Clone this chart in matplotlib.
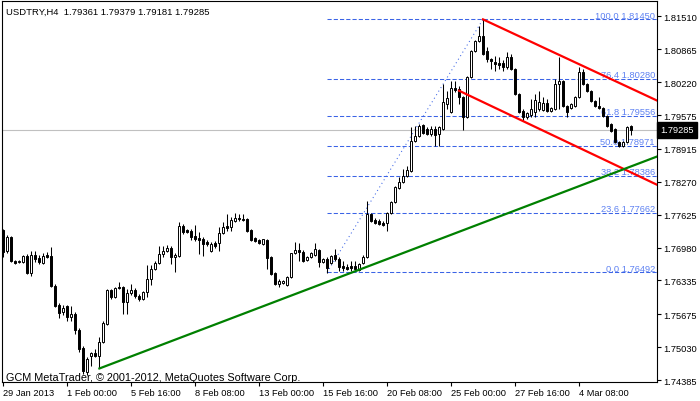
import matplotlib
matplotlib.use('Agg')
import matplotlib.pyplot as plt
import numpy as np

plt.rcParams['font.family'] = ['Liberation Sans', 'DejaVu Sans']

symbol_text = 'USDTRY,H4  1.79361 1.79379 1.79181 1.79285'
copyright_text = 'GCM MetaTrader, \u00a9 2001-2012, MetaQuotes Software Corp.'

# H4 candles, one entry per bar (bar 0 = 29 Jan 2013)
opens = [
    1.7732, 1.7691, 1.7718, 1.7672, 1.7670, 1.7670, 1.7681, 1.7648, 1.7683, 1.7677,
    1.7668, 1.7683, 1.7681, 1.7622, 1.7585, 1.7572, 1.7583, 1.7562, 1.7568, 1.7536,
    1.7501, 1.7454, 1.7485, 1.7491, 1.7485, 1.7513, 1.7548, 1.7615, 1.7601, 1.7620,
    1.7620, 1.7591, 1.7609, 1.7615, 1.7603, 1.7597, 1.7611, 1.7636, 1.7656, 1.7668,
    1.7685, 1.7691, 1.7697, 1.7679, 1.7681, 1.7740, 1.7732, 1.7730, 1.7720, 1.7716,
    1.7715, 1.7709, 1.7691, 1.7707, 1.7707, 1.7726, 1.7740, 1.7738, 1.7750, 1.7756,
    1.7754, 1.7754, 1.7732, 1.7716, 1.7713, 1.7705, 1.7713, 1.7679, 1.7648, 1.7626,
    1.7628, 1.7624, 1.7640, 1.7687, 1.7693, 1.7689, 1.7674, 1.7679, 1.7683, 1.7693,
    1.7670, 1.7676, 1.7668, 1.7683, 1.7676, 1.7662, 1.7660, 1.7662, 1.7662, 1.7654,
    1.7668, 1.7679, 1.7764, 1.7752, 1.7750, 1.7746, 1.7746, 1.7766, 1.7787, 1.7814,
    1.7826, 1.7838, 1.7848, 1.7907, 1.7916, 1.7938, 1.7930, 1.7920, 1.7930, 1.7920,
    1.7930, 1.7979, 1.7963, 1.8010, 1.8009, 1.7993, 1.7954, 1.8032, 1.8083, 1.8103,
    1.8112, 1.8083, 1.8067, 1.8061, 1.8059, 1.8059, 1.8051, 1.8071, 1.8048, 1.7999,
    1.7965, 1.7954, 1.7958, 1.7963, 1.7969, 1.7967, 1.7981, 1.7965, 1.7969, 1.8018,
    1.8024, 1.7975, 1.7971, 1.7975, 1.7993, 1.8042, 1.8018, 1.8005, 1.7985, 1.7975,
    1.7971, 1.7956, 1.7940, 1.7930, 1.7905, 1.7897, 1.7905, 1.79361,
]
highs = [
    1.7734, 1.7722, 1.7720, 1.7674, 1.7674, 1.7683, 1.7685, 1.7691, 1.7691, 1.7683,
    1.7687, 1.7689, 1.7699, 1.7626, 1.7589, 1.7585, 1.7585, 1.7583, 1.7572, 1.7540,
    1.7505, 1.7483, 1.7493, 1.7499, 1.7522, 1.7554, 1.7617, 1.7617, 1.7620, 1.7630,
    1.7622, 1.7617, 1.7626, 1.7618, 1.7607, 1.7613, 1.7664, 1.7664, 1.7672, 1.7701,
    1.7701, 1.7703, 1.7701, 1.7687, 1.7748, 1.7744, 1.7734, 1.7734, 1.7742, 1.7728,
    1.7718, 1.7713, 1.7709, 1.7711, 1.7738, 1.7748, 1.7764, 1.7758, 1.7766, 1.7764,
    1.7764, 1.7756, 1.7734, 1.7718, 1.7715, 1.7715, 1.7715, 1.7681, 1.7650, 1.7636,
    1.7634, 1.7642, 1.7687, 1.7709, 1.7707, 1.7693, 1.7681, 1.7689, 1.7707, 1.7695,
    1.7677, 1.7679, 1.7683, 1.7695, 1.7679, 1.7672, 1.7666, 1.7672, 1.7672, 1.7668,
    1.7683, 1.7789, 1.7766, 1.7756, 1.7754, 1.7750, 1.7768, 1.7789, 1.7818, 1.7836,
    1.7852, 1.7858, 1.7934, 1.7936, 1.7940, 1.7940, 1.7934, 1.7936, 1.7936, 1.7936,
    1.8018, 1.8005, 1.8024, 1.8024, 1.8014, 1.7995, 1.8034, 1.8085, 1.8105, 1.8132,
    1.8145, 1.8091, 1.8069, 1.8073, 1.8071, 1.8065, 1.8081, 1.8077, 1.8050, 1.8001,
    1.7969, 1.7963, 1.7989, 1.7999, 1.8005, 1.7993, 1.7989, 1.7973, 1.8028, 1.8071,
    1.8026, 1.7977, 1.7981, 1.7995, 1.8052, 1.8048, 1.8020, 1.8007, 1.7987, 1.7993,
    1.7973, 1.7958, 1.7942, 1.7932, 1.7907, 1.7907, 1.7936, 1.79379,
]
lows = [
    1.7679, 1.7687, 1.7670, 1.7666, 1.7668, 1.7668, 1.7646, 1.7642, 1.7670, 1.7666,
    1.7666, 1.7677, 1.7620, 1.7581, 1.7560, 1.7566, 1.7554, 1.7554, 1.7528, 1.7493,
    1.7450, 1.7448, 1.7466, 1.7483, 1.7462, 1.7511, 1.7546, 1.7597, 1.7599, 1.7617,
    1.7568, 1.7568, 1.7605, 1.7599, 1.7593, 1.7595, 1.7601, 1.7624, 1.7654, 1.7666,
    1.7679, 1.7689, 1.7666, 1.7650, 1.7679, 1.7724, 1.7726, 1.7713, 1.7711, 1.7685,
    1.7681, 1.7701, 1.7689, 1.7697, 1.7691, 1.7724, 1.7730, 1.7730, 1.7748, 1.7750,
    1.7750, 1.7728, 1.7711, 1.7709, 1.7705, 1.7703, 1.7656, 1.7644, 1.7624, 1.7620,
    1.7626, 1.7622, 1.7638, 1.7685, 1.7672, 1.7670, 1.7672, 1.7677, 1.7681, 1.7660,
    1.7668, 1.7649, 1.7666, 1.7672, 1.7652, 1.7652, 1.7654, 1.7652, 1.7652, 1.7652,
    1.7666, 1.7677, 1.7748, 1.7744, 1.7742, 1.7740, 1.7730, 1.7764, 1.7785, 1.7813,
    1.7824, 1.7836, 1.7846, 1.7905, 1.7914, 1.7920, 1.7918, 1.7916, 1.7897, 1.7897,
    1.7928, 1.7969, 1.7961, 1.8003, 1.7979, 1.7928, 1.7952, 1.8030, 1.8081, 1.8101,
    1.8075, 1.8061, 1.8048, 1.8044, 1.8048, 1.8044, 1.8048, 1.8046, 1.7997, 1.7961,
    1.7946, 1.7950, 1.7954, 1.7954, 1.7965, 1.7965, 1.7963, 1.7963, 1.7967, 1.7969,
    1.7973, 1.7954, 1.7969, 1.7973, 1.7991, 1.8016, 1.8003, 1.7983, 1.7973, 1.7969,
    1.7954, 1.7934, 1.7924, 1.7903, 1.7895, 1.7895, 1.7903, 1.79181,
]
closes = [
    1.7689, 1.7718, 1.7672, 1.7668, 1.7672, 1.7681, 1.7648, 1.7683, 1.7676, 1.7670,
    1.7681, 1.7679, 1.7622, 1.7583, 1.7570, 1.7579, 1.7562, 1.7568, 1.7536, 1.7499,
    1.7456, 1.7480, 1.7491, 1.7485, 1.7513, 1.7550, 1.7615, 1.7601, 1.7618, 1.7618,
    1.7591, 1.7609, 1.7615, 1.7603, 1.7597, 1.7611, 1.7636, 1.7656, 1.7668, 1.7685,
    1.7691, 1.7697, 1.7679, 1.7683, 1.7740, 1.7728, 1.7728, 1.7718, 1.7715, 1.7713,
    1.7705, 1.7705, 1.7705, 1.7701, 1.7726, 1.7738, 1.7736, 1.7752, 1.7756, 1.7754,
    1.7752, 1.7730, 1.7713, 1.7711, 1.7707, 1.7715, 1.7678, 1.7646, 1.7626, 1.7632,
    1.7632, 1.7640, 1.7687, 1.7693, 1.7689, 1.7672, 1.7679, 1.7687, 1.7695, 1.7670,
    1.7676, 1.7658, 1.7681, 1.7676, 1.7660, 1.7658, 1.7656, 1.7658, 1.7656, 1.7666,
    1.7679, 1.7764, 1.7750, 1.7746, 1.7744, 1.7742, 1.7766, 1.7787, 1.7816, 1.7826,
    1.7838, 1.7850, 1.7907, 1.7916, 1.7936, 1.7922, 1.7920, 1.7930, 1.7918, 1.7934,
    1.7983, 1.7991, 1.8010, 1.8007, 1.7993, 1.7954, 1.8032, 1.8083, 1.8103, 1.8112,
    1.8077, 1.8067, 1.8063, 1.8057, 1.8055, 1.8051, 1.8071, 1.8048, 1.7999, 1.7963,
    1.7954, 1.7961, 1.7969, 1.7987, 1.7983, 1.7981, 1.7965, 1.7971, 1.8018, 1.8024,
    1.7975, 1.7963, 1.7979, 1.7993, 1.8042, 1.8018, 1.8005, 1.7985, 1.7975, 1.7971,
    1.7956, 1.7936, 1.7926, 1.7905, 1.7897, 1.7905, 1.7934, 1.79285,
]

time_ticks = [0, 16, 32, 48, 64, 80, 96, 112, 128, 144]
time_labels = ['29 Jan 2013', '1 Feb 00:00', '5 Feb 16:00', '8 Feb 08:00', '13 Feb 00:00',
               '15 Feb 16:00', '20 Feb 08:00', '25 Feb 00:00', '27 Feb 16:00', '4 Mar 08:00']

price_ticks = [1.81510, 1.80865, 1.80220, 1.79575, 1.78915, 1.78270,
               1.77625, 1.76980, 1.76335, 1.75675, 1.75030, 1.74385]

fib_levels = [100.0, 76.4, 61.8, 50.0, 38.2, 23.6, 0.0]
fib_prices = [1.81450, 1.80280, 1.79556, 1.78971, 1.78386, 1.77662, 1.76492]
fib_bars = [81, 120]

channel_upper_bars = [120, 163.5]
channel_upper_prices = [1.81450, 1.79860]
channel_lower_bars = [114, 163.5]
channel_lower_prices = [1.80053, 1.78210]
support_bars = [24.1, 163.5]
support_prices = [1.74611, 1.78763]

last_price = 1.79285

x_right = 163.5
fib_color = '#3B64E6'
fib_text_color = '#5F82F2'
fs = 6.7

fig = plt.figure(figsize=(7, 4.02), dpi=100)
ax = fig.add_axes([2 / 700, 19 / 402, 655 / 700, 381 / 402])
ax.set_xlim(-0.25, x_right)
ax.set_ylim(1.74346, 1.81810)

# fibonacci retracement
ax.hlines(fib_prices, fib_bars[0], x_right, colors=fib_color, linestyles=[(0, (4, 2))],
          linewidth=0.75, zorder=1)
ax.plot(fib_bars, [fib_prices[-1], fib_prices[0]], color=fib_color, linestyle=(0, (1, 3)),
        linewidth=0.75, zorder=1)
for lvl, p in zip(fib_levels, fib_prices):
    ax.annotate(f'{lvl:.1f} {p:.5f}', xy=(x_right, p), xytext=(-1.5, 1.2),
                textcoords='offset points', ha='right', va='baseline',
                color=fib_text_color, fontsize=fs, zorder=2, annotation_clip=False)

ax.axhline(last_price, color='#C0C0C0', linewidth=0.8, zorder=1)

# candles
x = np.arange(len(opens))
o = np.array(opens)
c = np.array(closes)
up = c >= o
bottoms = np.minimum(o, c)
heights = np.maximum(np.abs(c - o), 0.00002)
ax.vlines(x, lows, highs, color='black', linewidth=0.75, zorder=3)
ax.bar(x, heights, bottom=bottoms, width=0.5, color=np.where(up, 'white', 'black'),
       edgecolor='black', linewidth=0.7, zorder=4)

# trend lines
ax.plot(channel_upper_bars, channel_upper_prices, color='red', linewidth=1.6, zorder=5)
ax.plot(channel_lower_bars, channel_lower_prices, color='red', linewidth=1.6, zorder=5)
ax.plot(support_bars, support_prices, color='#008000', linewidth=1.6, zorder=5)

# axes
ax.yaxis.tick_right()
ax.set_yticks(price_ticks)
ax.set_yticklabels([f'{p:.5f}' for p in price_ticks])
ax.set_xticks(time_ticks)
ax.set_xticklabels(time_labels)
for lbl in ax.get_xticklabels():
    lbl.set_ha('left')
ax.tick_params(axis='y', direction='out', length=3, width=0.8, pad=1.5, labelsize=fs)
ax.tick_params(axis='x', direction='out', length=3, width=0.8, pad=1.5, labelsize=fs)
for sp in ax.spines.values():
    sp.set_color('black')
    sp.set_linewidth(0.8)

ax.text(1.0 + 3 / 655, last_price, f'{last_price:.5f}', transform=ax.get_yaxis_transform(),
        ha='left', va='center', color='white', fontsize=fs, clip_on=False, zorder=10,
        bbox=dict(boxstyle='square,pad=0.35', fc='black', ec='black'))

fig.text(6 / 700, 1 - 15 / 402, symbol_text, fontsize=6.8, va='baseline', ha='left')
fig.text(6 / 700, 1 - 381 / 402, copyright_text, fontsize=7.8, va='baseline', ha='left')

fig.savefig('out.png', dpi=100)
